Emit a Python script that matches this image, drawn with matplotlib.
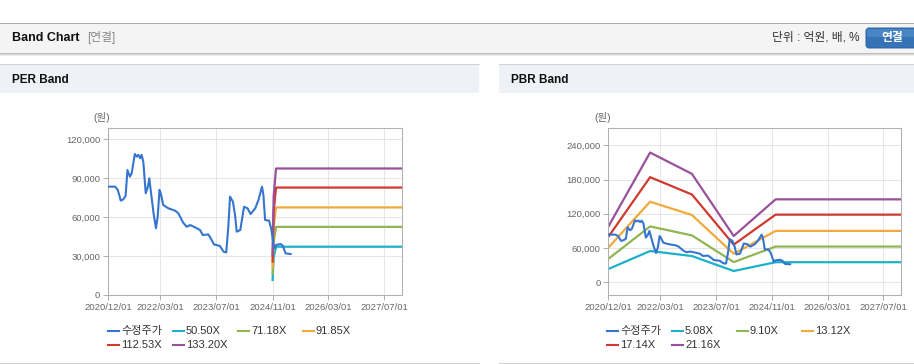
import matplotlib
matplotlib.use("Agg")
import matplotlib.pyplot as plt
import matplotlib.dates as mdates
import matplotlib.ticker as mticker
import matplotlib.transforms as mtrans
from matplotlib.patches import Rectangle, FancyBboxPatch
from matplotlib.lines import Line2D
import pandas as pd

plt.rcParams["font.family"] = ["Liberation Sans", "Noto Sans CJK KR", "DejaVu Sans"]

# 수정주가 (adjusted price)
price_dates = [
    "2020-12-01", "2021-02-01", "2021-02-24", "2021-03-22", "2021-04-13", "2021-05-03",
    "2021-05-19", "2021-06-10", "2021-06-25", "2021-07-22", "2021-08-07", "2021-08-22",
    "2021-09-06", "2021-09-19", "2021-10-04", "2021-10-25", "2021-11-13", "2021-11-25",
    "2021-12-07", "2022-01-01", "2022-01-22", "2022-02-06", "2022-02-22", "2022-03-08",
    "2022-03-26", "2022-05-10", "2022-07-07", "2022-08-04", "2022-09-16", "2022-10-16",
    "2022-11-16", "2022-12-28", "2023-02-09", "2023-03-05", "2023-04-22", "2023-05-13",
    "2023-06-10", "2023-08-01", "2023-09-01", "2023-09-25", "2023-10-13", "2023-10-28",
    "2023-11-22", "2023-12-10", "2023-12-25", "2024-01-25", "2024-02-27", "2024-03-28",
    "2024-04-24", "2024-06-03", "2024-07-01", "2024-08-01", "2024-08-13", "2024-08-28",
    "2024-10-01", "2024-10-19", "2024-11-04", "2024-11-16", "2024-12-01", "2025-01-10",
    "2025-01-28", "2025-02-22", "2025-04-07",
]
price = [
    83500, 83500, 81000, 72700, 73700, 76300,
    96300, 91200, 93800, 108700, 106600, 108000,
    105400, 108000, 102700, 78400, 83500, 89900,
    81000, 63000, 51400, 60400, 81000, 77100,
    69400, 66800, 65000, 63000, 55700, 52600,
    53900, 52100, 50100, 46200, 46700, 43700,
    39000, 37800, 33400, 32800, 52600, 75800,
    71900, 62000, 48800, 50100, 68000, 66800,
    62400, 66800, 73200, 83500, 77100, 57800,
    57300, 51400, 42400, 36000, 38500, 39300,
    38000, 32100, 31600,
]

# PER band
per_labels = ["50.50X", "71.18X", "91.85X", "112.53X", "133.20X"]
per_dates = ["2024-11-01", "2024-11-10", "2024-12-01", "2027-12-01"]
per_bands = [
    [11600, 28800, 37200, 37200],
    [16300, 40600, 52500, 52500],
    [21000, 52400, 67500, 67500],
    [25800, 64200, 82800, 82800],
    [30500, 76000, 97500, 97500],
]

# PBR band
pbr_labels = ["5.08X", "9.10X", "13.12X", "17.14X", "21.16X"]
pbr_dates = ["2020-12-01", "2021-12-01", "2022-12-01", "2023-12-01", "2024-12-01", "2027-12-01"]
pbr_bands = [
    [23300, 54800, 46000, 19800, 35200, 35200],
    [41000, 97900, 82200, 35400, 62600, 62600],
    [60600, 141200, 117900, 50000, 90000, 90000],
    [79500, 184200, 153800, 66000, 118500, 118500],
    [97500, 227300, 190000, 81100, 145300, 145300],
]

price_color = "#3575cf"
band_colors = ["#1cb1c8", "#8fb652", "#f2a93b", "#d03a2e", "#98519a"]
xticks = ["2020-12-01", "2022-03-01", "2023-07-01", "2024-11-01", "2026-03-01", "2027-07-01"]

W, H = 914, 364
fig = plt.figure(figsize=(W / 100, H / 100), dpi=100)
fig.patch.set_facecolor("white")
# pixel transform, origin at top-left
T = mtrans.Affine2D().scale(1 / W, -1 / H).translate(0, 1) + fig.transFigure


def rect(x, y, w, h, color, z=0):
    fig.add_artist(Rectangle((x, y), w, h, transform=T, facecolor=color, edgecolor="none", zorder=z))


def hline(x0, x1, y, color, lw=1):
    fig.add_artist(Line2D([x0, x1], [y, y], transform=T, color=color, lw=lw * 0.72))


# top header bar
rect(0, 22.5, W, 30, "#f4f4f4")
hline(0, W, 22.5, "#aaaaaa")
hline(0, W, 52.5, "#bdbdbd")
hline(0, W, 53.5, "#d9d9d9")
hline(0, W, 54.5, "#ececec")
fig.text(12 / W, 1 - 38 / H, "Band Chart", fontsize=9, fontweight="bold", color="#111111", va="center")
fig.text(87 / W, 1 - 38 / H, "[연결]", fontsize=8.5, color="#888888", va="center")
fig.text(860 / W, 1 - 38 / H, "단위 : 억원, 배, %", fontsize=8.5, color="#333333", va="center", ha="right")
fig.add_artist(FancyBboxPatch((866, 28), 60, 20, boxstyle="round,pad=0,rounding_size=3",
                              transform=T, facecolor="#3572b6", edgecolor="#2d62a0", lw=0.7))
rect(867, 29, 48, 8, "#4a86c6", z=2)
fig.text(892 / W, 1 - 38 / H, "연결", fontsize=8.5, fontweight="bold", color="white",
         va="center", ha="center", zorder=3)

# panel headers
for x0, x1, title in [(0, 479, "PER Band"), (499, W, "PBR Band")]:
    rect(x0, 64.5, x1 - x0, 28, "#eef1f6")
    hline(x0, x1, 64, "#d2d2d2")
    hline(x0, x1, 362.5, "#d2d2d2")
    fig.text((x0 + 12) / W, 1 - 80 / H, title, fontsize=8.5, fontweight="bold", color="#111111", va="center")


def band_axes(left, right, ylim, yticks, bands, band_dates, labels, leg_x):
    top, bottom = 128, 295
    ax = fig.add_axes([left / W, 1 - bottom / H, (right - left) / W, (bottom - top) / H])
    ax.plot(pd.to_datetime(price_dates), price, color=price_color, lw=1.5, zorder=3)
    for vals, c in zip(bands, band_colors):
        ax.plot(pd.to_datetime(band_dates), vals, color=c, lw=1.6, zorder=2)
    ax.set_xlim(pd.Timestamp("2020-12-01"), pd.Timestamp("2027-12-01"))
    ax.set_ylim(*ylim)
    ax.set_yticks(yticks)
    ax.yaxis.set_major_formatter(mticker.FuncFormatter(lambda v, p: f"{int(v):,}"))
    ax.set_xticks(pd.to_datetime(xticks))
    ax.xaxis.set_major_formatter(mdates.DateFormatter("%Y/%m/%d"))
    ax.grid(True, color="#e6e6e6", lw=0.75)
    ax.set_axisbelow(True)
    for s in ax.spines.values():
        s.set_color("#b0b0b0")
        s.set_linewidth(0.75)
    ax.tick_params(axis="both", colors="#b0b0b0", labelcolor="#666666", labelsize=6.8,
                   length=3.5, width=0.75)
    ax.tick_params(axis="x", pad=2.5)
    ax.tick_params(axis="y", pad=2)
    fig.text((left - 6) / W, 1 - 118 / H, "(원)", fontsize=7.5, color="#666666", va="center", ha="center")

    # legend
    items = [("수정주가", price_color)] + list(zip(labels, band_colors))
    for i, (lab, c) in enumerate(items):
        x = leg_x + (i % 4) * 65
        y = 331 + (i // 4) * 13.5
        fig.add_artist(Line2D([x, x + 10.5], [y, y], transform=T, color=c, lw=1.5))
        fig.text((x + 13) / W, 1 - y / H, lab, fontsize=8, color="#333333", va="center")
    return ax


band_axes(108, 402, (0, 128700), [0, 30000, 60000, 90000, 120000],
          per_bands, per_dates, per_labels, 108)
band_axes(608.3, 901, (-22250, 270300), [0, 60000, 120000, 180000, 240000],
          pbr_bands, pbr_dates, pbr_labels, 607)

fig.savefig("out.png", dpi=100)
